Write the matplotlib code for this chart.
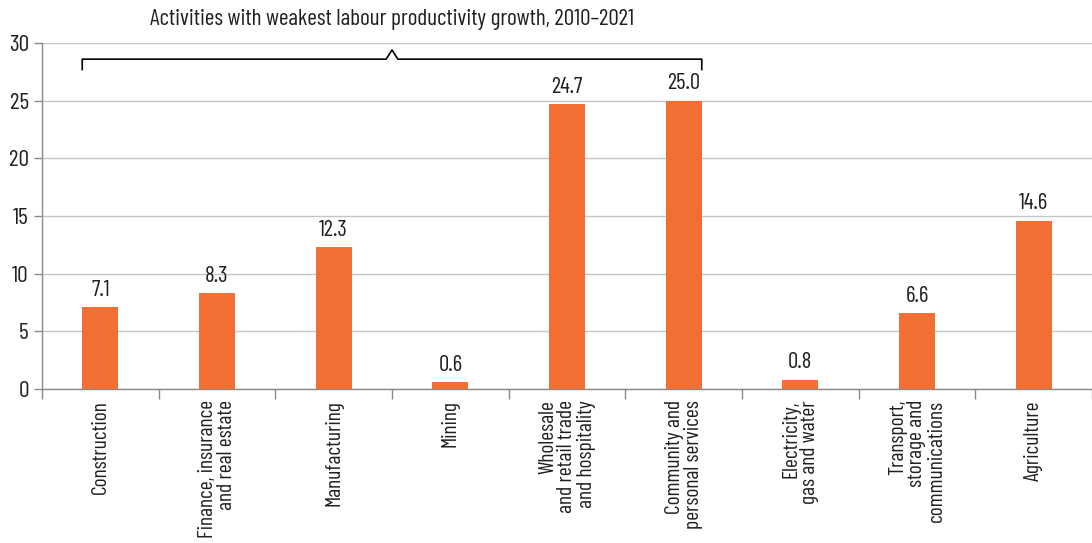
import matplotlib
matplotlib.use('Agg')
import matplotlib.pyplot as plt

plt.rcParams['font.family'] = ['Barlow Condensed', 'Barlow Semi Condensed', 'DejaVu Sans']

categories = ['Construction', 'Finance, insurance\nand real estate', 'Manufacturing', 'Mining',
              'Wholesale\nand retail trade\nand hospitality', 'Community and\npersonal services',
              'Electricity,\ngas and water', 'Transport,\nstorage and\ncommunications', 'Agriculture']
values = [7.1, 8.3, 12.3, 0.6, 24.7, 25.0, 0.8, 6.6, 14.6]
bracket_title = 'Activities with weakest labour productivity growth, 2010\u20132021'

text_color = '#231f20'
bar_color = '#f26f33'
grid_color = '#c6c6c6'

fig = plt.figure(figsize=(10.92, 5.43), dpi=100)
ax = fig.add_axes([42 / 1092, 0.2836, 1050 / 1092, 0.6372])

x = range(len(values))
width = 0.31
ax.bar(x, values, width=width, color=bar_color, zorder=3)
for i, v in enumerate(values):
    ax.text(i, v + 0.55, f'{v:.1f}', ha='center', va='bottom', fontsize=16.5, color=text_color)

ax.set_xlim(-0.5, 8.4)
ax.set_ylim(0, 30)
ax.set_yticks(range(0, 31, 5))
ax.yaxis.grid(True, color=grid_color, linewidth=1, zorder=0)
ax.tick_params(axis='y', labelsize=17, labelcolor=text_color, color='#8a8a8a', length=6, width=1)

ax.set_xticks(list(x))
ax.set_xticklabels(categories, rotation=90, fontsize=15.5, color=text_color,
                   va='top', ha='center', multialignment='right', linespacing=1.0)
ax.tick_params(axis='x', which='major', length=0, pad=8)
ax.set_xticks([i - 0.5 for i in range(len(values) + 1)], minor=True)
ax.tick_params(axis='x', which='minor', length=7, color='#8a8a8a', width=1)

for side in ['top', 'right']:
    ax.spines[side].set_visible(False)
for side in ['left', 'bottom']:
    ax.spines[side].set_color('#8a8a8a')
    ax.spines[side].set_linewidth(1)

# bracket over the first six activities, with a small peak in the middle
x0 = -0.5 + (1 - width) / 2
x1 = 5 + width / 2
mid = (x0 + x1) / 2
bx = [x0, x0, mid - 0.05, mid, mid + 0.05, x1, x1]
by = [27.7, 28.6, 28.6, 29.4, 28.6, 28.6, 27.7]
ax.plot(bx, by, color='black', linewidth=1.2, clip_on=False, zorder=4)
ax.text(mid, 31.1, bracket_title, ha='center', va='bottom', fontsize=16.8, color=text_color)

fig.savefig('out.png', dpi=100)
